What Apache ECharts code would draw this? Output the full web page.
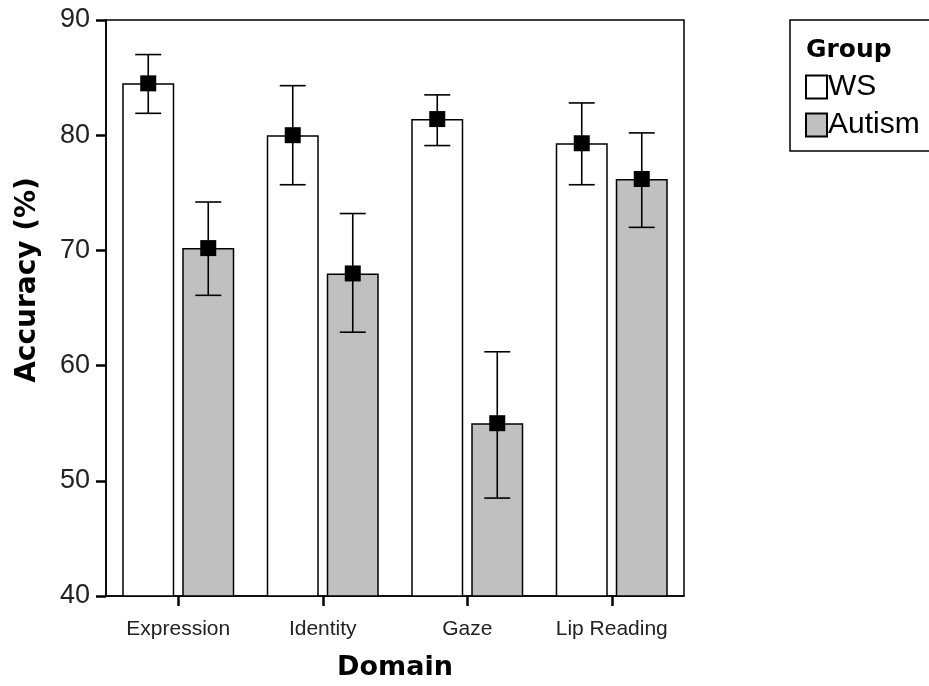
<!DOCTYPE html>
<html>
<head>
<meta charset="utf-8">
<script src="https://cdn.jsdelivr.net/npm/echarts@6/dist/echarts.min.js"></script>
<style>
html,body{margin:0;padding:0;background:#fff;}
#chart{width:929px;height:686px;}
</style>
</head>
<body>
<div id="chart"></div>
<script>
// ---- data ----
const categories = ['Expression', 'Identity', 'Gaze', 'Lip Reading'];
const wsMean  = [84.5, 80.0, 81.4, 79.3];
const wsLow   = [81.9, 75.7, 79.1, 75.7];
const wsHigh  = [87.0, 84.3, 83.5, 82.8];
const autMean = [70.2, 68.0, 55.0, 76.2];
const autLow  = [66.1, 62.9, 48.5, 72.0];
const autHigh = [74.2, 73.2, 61.2, 80.2];
const yTicks = [40, 50, 60, 70, 80, 90];

const BAR_W = 52;
const BAR_GAP = 0.154;
const groupOffset = (BAR_W + BAR_W * BAR_GAP) / 2;

function errData(mean, low, high) {
  return mean.map((m, i) => [i, m, low[i], high[i]]);
}

function makeRender(sign) {
  return function (params, api) {
    const i = api.value(0);
    const pMean = api.coord([i, api.value(1)]);
    const pLow = api.coord([i, api.value(2)]);
    const pHigh = api.coord([i, api.value(3)]);
    const x = pMean[0] + sign * groupOffset;
    const cap = 13;
    const ls = { stroke: '#000', lineWidth: 1.6 };
    const m = 8;
    return {
      type: 'group',
      children: [
        { type: 'line', shape: { x1: x, y1: pHigh[1], x2: x, y2: pLow[1] }, style: ls },
        { type: 'line', shape: { x1: x - cap, y1: pHigh[1], x2: x + cap, y2: pHigh[1] }, style: ls },
        { type: 'line', shape: { x1: x - cap, y1: pLow[1], x2: x + cap, y2: pLow[1] }, style: ls },
        { type: 'rect', shape: { x: x - m, y: pMean[1] - m, width: 2 * m, height: 2 * m }, style: { fill: '#000' } }
      ]
    };
  };
}

const chart = echarts.init(document.getElementById('chart'), null, { renderer: 'canvas' });
chart.setOption({
  animation: false,
  backgroundColor: '#fff',
  grid: {
    left: 106, right: 245, top: 20, bottom: 90,
    show: true, borderColor: '#000', borderWidth: 1.5, backgroundColor: 'transparent'
  },
  legend: {
    data: ['WS', 'Autism'],
    orient: 'vertical',
    left: 805, top: 72,
    padding: 0,
    itemWidth: 21, itemHeight: 23, itemGap: 8,
    icon: 'rect',
    textStyle: { fontFamily: 'Liberation Sans', fontSize: 30, color: '#000', padding: [0, 0, 0, -4] },
    selectedMode: false
  },
  graphic: [
    { type: 'rect', x: 790, y: 20, shape: { x: 0, y: 0, width: 200, height: 131 },
      style: { fill: 'none', stroke: '#000', lineWidth: 1.5 }, z: 100 },
    { type: 'text', x: 806, y: 50,
      style: { text: 'Group', font: 'bold 25px "DejaVu Sans"', fill: '#000', textVerticalAlign: 'middle' }, z: 100 },
    { type: 'text', x: 28, y: 280, rotation: Math.PI / 2,
      style: { text: 'Accuracy (%)', font: 'bold 28px "DejaVu Sans"', fill: '#000', textAlign: 'center', textVerticalAlign: 'middle' }, z: 100 }
  ],
  xAxis: {
    type: 'category',
    data: categories,
    name: 'Domain',
    nameLocation: 'middle',
    nameGap: 58,
    nameTextStyle: { fontFamily: 'DejaVu Sans', fontWeight: 'bold', fontSize: 27, color: '#000' },
    axisLine: { show: true, lineStyle: { color: '#000', width: 1.5 } },
    axisTick: { show: true, alignWithLabel: true, length: 10, lineStyle: { color: '#000', width: 2.5 } },
    axisLabel: { fontFamily: 'Liberation Sans', fontSize: 21, color: '#222', margin: 23, interval: 0 },
    splitLine: { show: false }
  },
  yAxis: {
    type: 'value',
    min: yTicks[0], max: yTicks[yTicks.length - 1], interval: 10,
    axisLine: { show: true, lineStyle: { color: '#000', width: 1.5 } },
    axisTick: { show: true, length: 10, lineStyle: { color: '#000', width: 2.5 } },
    axisLabel: { fontFamily: 'Liberation Sans', fontSize: 27, color: '#222', margin: 16 },
    splitLine: { show: false }
  },
  series: [
    { name: 'WS', type: 'bar', data: wsMean, barWidth: BAR_W, barGap: (BAR_GAP * 100) + '%',
      itemStyle: { color: '#ffffff', borderColor: '#000', borderWidth: 1.5 } },
    { name: 'Autism', type: 'bar', data: autMean, barWidth: BAR_W,
      itemStyle: { color: '#c0c0c0', borderColor: '#000', borderWidth: 1.5 } },
    { type: 'custom', name: 'wsErr', data: errData(wsMean, wsLow, wsHigh), renderItem: makeRender(-1), z: 5,
      encode: { x: 0, y: [1, 2, 3] } },
    { type: 'custom', name: 'autErr', data: errData(autMean, autLow, autHigh), renderItem: makeRender(1), z: 5,
      encode: { x: 0, y: [1, 2, 3] } }
  ]
});
</script>
</body>
</html>
